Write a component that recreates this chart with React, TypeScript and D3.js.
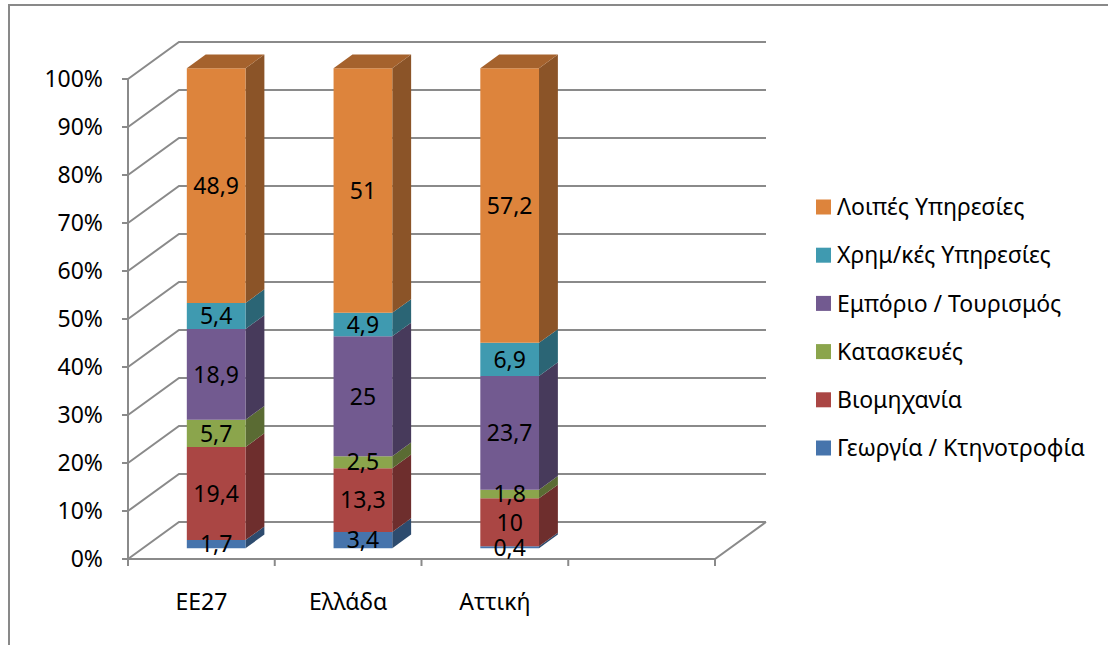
import * as d3 from "d3"
import { useEffect, useRef } from "react"

const categories = ["ΕΕ27", "Ελλάδα", "Αττική"]
const seriesNames = [
  "Γεωργία / Κτηνοτροφία",
  "Βιομηχανία",
  "Κατασκευές",
  "Εμπόριο / Τουρισμός",
  "Χρημ/κές Υπηρεσίες",
  "Λοιπές Υπηρεσίες",
]
const agriculture = [1.7, 3.4, 0.4]
const industry = [19.4, 13.3, 10]
const construction = [5.7, 2.5, 1.8]
const trade = [18.9, 25, 23.7]
const finance = [5.4, 4.9, 6.9]
const otherServices = [48.9, 51, 57.2]
const yTicks = [0, 0.1, 0.2, 0.3, 0.4, 0.5, 0.6, 0.7, 0.8, 0.9, 1]

const frontColors = ["#4674AC", "#AA4644", "#8BA54C", "#725A90", "#3F9AB0", "#DD843C"]
const sideColors = ["#2D4B6E", "#6E2E2D", "#5A6B33", "#473A5B", "#2B6575", "#8B5428"]
const topColors = ["#3A5F8C", "#8A3A38", "#71863E", "#5B4875", "#337E90", "#A5622D"]

const W = 1108
const H = 645
const FONT = "'Noto Sans', 'Open Sans', sans-serif"
const FS = 23

const App = () => {
  const svgRef = useRef<SVGSVGElement>(null)

  useEffect(() => {
    if (!svgRef.current) return
    const svg = d3.select(svgRef.current)
    svg.selectAll("*").remove()

    const values = [agriculture, industry, construction, trade, finance, otherServices]
    const rows = categories.map((c, i) => {
      const r: Record<string, number | string> = { cat: c }
      seriesNames.forEach((s, k) => (r[s] = values[k][i]))
      return r
    })
    const stack = d3
      .stack<Record<string, number | string>>()
      .keys(seriesNames)
      .value((d, k) => d[k] as number)
      .offset(d3.stackOffsetExpand)
    const layers = stack(rows)

    // depth of the 3d box
    const DX = 51
    const DY = -37
    const x = d3
      .scaleBand<string>()
      .domain([...categories, "_empty"])
      .range([128, 715])
    const y = d3.scaleLinear().domain([0, 1]).range([559, 79])
    const p = (px: number, py: number, z: number) => [px + z * DX, py + z * DY]
    const pts = (arr: number[][]) => arr.map((a) => a.join(",")).join(" ")

    // outer border
    svg
      .append("rect")
      .attr("x", 9)
      .attr("y", 5)
      .attr("width", W)
      .attr("height", H)
      .attr("fill", "white")
      .attr("stroke", "#898989")
      .attr("stroke-width", 2)

    const grid = svg.append("g").attr("stroke", "#8a8a8a").attr("stroke-width", 2).attr("fill", "none")
    const x0 = x.range()[0]
    const x1 = x.range()[1]
    yTicks.forEach((t) => {
      const a = p(x0, y(t), 0)
      const b = p(x0, y(t), 1)
      const c = p(x1, y(t), 1)
      grid.append("polyline").attr("points", pts([a, b, c]))
    })
    // floor right edge and front edge
    grid.append("polyline").attr("points", pts([p(x0, y(0), 0), p(x1, y(0), 0), p(x1, y(0), 1)]))

    // axes
    const axis = svg.append("g").attr("stroke", "#8a8a8a").attr("stroke-width", 2)
    axis.append("line").attr("x1", x0).attr("x2", x0).attr("y1", y(1)).attr("y2", y(0))
    yTicks.forEach((t) => {
      axis.append("line").attr("x1", x0 - 6).attr("x2", x0).attr("y1", y(t)).attr("y2", y(t))
    })
    const bandEdges = [...x.domain().map((d) => x(d) as number), x1]
    bandEdges.forEach((e) => {
      axis.append("line").attr("x1", e).attr("x2", e).attr("y1", y(0)).attr("y2", y(0) + 7)
    })

    svg
      .append("g")
      .selectAll("text")
      .data(yTicks)
      .join("text")
      .attr("x", 103)
      .attr("y", (d) => y(d))
      .attr("dy", "0.36em")
      .attr("text-anchor", "end")
      .attr("font-family", FONT)
      .attr("font-size", FS)
      .attr("fill", "#000")
      .text((d) => d3.format(".0%")(d))

    svg
      .append("g")
      .selectAll("text")
      .data(categories)
      .join("text")
      .attr("x", (d) => (x(d) as number) + x.bandwidth() / 2)
      .attr("y", 610)
      .attr("text-anchor", "middle")
      .attr("font-family", FONT)
      .attr("font-size", FS)
      .text((d) => d)

    // bars
    const zF = 0.29
    const zB = 0.66
    const bw = x.bandwidth() * 0.4
    const bars = svg.append("g")
    categories.forEach((cat, i) => {
      const cx = (x(cat) as number) + x.bandwidth() / 2
      const l = cx - bw / 2
      const r = cx + bw / 2
      layers.forEach((layer, k) => {
        const [v0, v1] = layer[i]
        const yb = y(v0)
        const yt = y(v1)
        bars
          .append("polygon")
          .attr("points", pts([p(r, yb, zF), p(r, yb, zB), p(r, yt, zB), p(r, yt, zF)]))
          .attr("fill", sideColors[k])
        bars
          .append("polygon")
          .attr("points", pts([p(l, yb, zF), p(r, yb, zF), p(r, yt, zF), p(l, yt, zF)]))
          .attr("fill", frontColors[k])
        if (k === layers.length - 1) {
          bars
            .append("polygon")
            .attr("points", pts([p(l, yt, zF), p(r, yt, zF), p(r, yt, zB), p(l, yt, zB)]))
            .attr("fill", topColors[k])
        }
      })
      layers.forEach((layer, k) => {
        const [v0, v1] = layer[i]
        const [lx, ly] = p(cx, y((v0 + v1) / 2), zF)
        bars
          .append("text")
          .attr("x", lx)
          .attr("y", ly)
          .attr("dy", "0.36em")
          .attr("text-anchor", "middle")
          .attr("font-family", FONT)
          .attr("font-size", FS)
          .text(String(values[k][i]).replace(".", ","))
      })
    })

    // legend, top entry = last series
    const legend = svg.append("g")
    const order = [...seriesNames].reverse()
    order.forEach((s, j) => {
      const k = seriesNames.indexOf(s)
      const cy = 207 + j * 48.2
      legend
        .append("rect")
        .attr("x", 816)
        .attr("y", cy - 7.5)
        .attr("width", 15)
        .attr("height", 15)
        .attr("fill", frontColors[k])
      legend
        .append("text")
        .attr("x", 837)
        .attr("y", cy)
        .attr("dy", "0.36em")
        .attr("font-family", FONT)
        .attr("font-size", FS)
        .text(s)
    })
  }, [])

  return (
    <svg
      ref={svgRef}
      width={W}
      height={H}
      style={{ position: "absolute", left: 0, top: 0, display: "block" }}
    />
  )
}

export default App
